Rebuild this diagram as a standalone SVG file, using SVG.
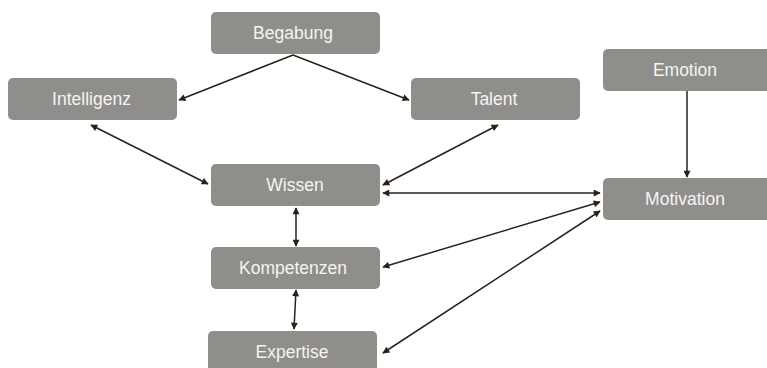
<svg xmlns="http://www.w3.org/2000/svg" width="767" height="368" viewBox="0 0 767 368">
<defs>
<marker id="ah" viewBox="0 0 10 10" refX="9" refY="5" markerWidth="8" markerHeight="7" markerUnits="userSpaceOnUse" orient="auto-start-reverse">
<path d="M0,0 L10,5 L0,10 z" fill="#2b2118"/>
</marker>
<style>
.n rect{fill:#908e8b;}
.n text{fill:#f4f4f4;font-family:"Liberation Sans",Arial,sans-serif;font-size:17.5px;text-anchor:middle;dominant-baseline:central;}
.c line{stroke:#2b2118;stroke-width:1.5;fill:none;}
.s{marker-end:url(#ah);}
.d{marker-start:url(#ah);marker-end:url(#ah);}
</style>
</defs>
<rect width="767" height="368" fill="#ffffff"/>
<g id="connectors" class="c">
<line class="s" x1="293" y1="55" x2="179" y2="100"/>
<line class="s" x1="293" y1="55" x2="409" y2="100"/>
<line class="d" x1="91" y1="125" x2="208" y2="184"/>
<line class="d" x1="498" y1="125" x2="383" y2="185"/>
<line class="d" x1="383" y1="193" x2="600" y2="193"/>
<line class="d" x1="383" y1="267" x2="600" y2="202"/>
<line class="d" x1="383" y1="353" x2="600" y2="211"/>
<line class="d" x1="296" y1="208" x2="296" y2="246"/>
<line class="d" x1="296" y1="290" x2="294" y2="329"/>
<line class="s" x1="687" y1="91" x2="687" y2="177"/>
</g>
<g id="begabung" class="n"><rect x="211" y="12" width="169" height="42" rx="5"/><text x="293" y="33">Begabung</text></g>
<g id="intelligenz" class="n"><rect x="8" y="78" width="169" height="42" rx="5"/><text x="91.5" y="99">Intelligenz</text></g>
<g id="talent" class="n"><rect x="411" y="78" width="169" height="42" rx="5"/><text x="494" y="99">Talent</text></g>
<g id="emotion" class="n"><rect x="603" y="49" width="169" height="42" rx="5"/><text x="685" y="70">Emotion</text></g>
<g id="motivation" class="n"><rect x="603" y="178" width="169" height="42" rx="5"/><text x="685" y="199">Motivation</text></g>
<g id="wissen" class="n"><rect x="211" y="164" width="169" height="42" rx="5"/><text x="295" y="185">Wissen</text></g>
<g id="kompetenzen" class="n"><rect x="211" y="247" width="169" height="42" rx="5"/><text x="293" y="268">Kompetenzen</text></g>
<g id="expertise" class="n"><rect x="208" y="331" width="169" height="42" rx="5"/><text x="292" y="352">Expertise</text></g>
</svg>
